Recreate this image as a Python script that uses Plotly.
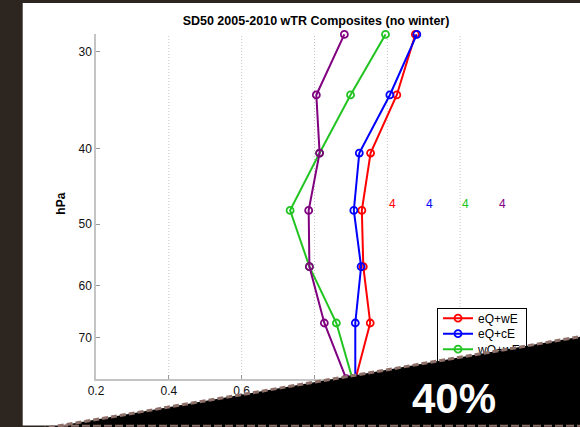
import math
import plotly.graph_objects as go

# ---------------- data ----------------
pressure_hpa = [28.5, 34.1, 40.5, 48.0, 56.7, 67.0, 79.0]
series_names = ["eQ+wE", "eQ+cE", "wQ+wE", "wQ+cE"]
eQ_wE = [1.077, 1.026, 0.954, 0.930, 0.934, 0.953, 0.913]
eQ_cE = [1.081, 1.007, 0.923, 0.908, 0.928, 0.912, 0.912]
wQ_wE = [0.995, 0.899, 0.814, 0.733, 0.786, 0.860, 0.904]
wQ_cE = [0.882, 0.805, 0.814, 0.784, 0.786, 0.827, 0.887]
series_values = [eQ_wE, eQ_cE, wQ_wE, wQ_cE]
series_colors = ["#ff0000", "#0000ff", "#22c422", "#800080"]

sample_counts = [4, 4, 4, 4]
count_x = [1.0, 1.1, 1.2, 1.3]
count_level = 48.0

x_ticks = [0.2, 0.4, 0.6, 0.8, 1.0, 1.2, 1.4]
x_tick_labels = ["0.2", "0.4", "0.6", "0.8", "1", "1.2", "1.4"]
y_ticks = [30, 40, 50, 60, 70]
y_tick_labels = ["30", "40", "50", "60", "70"]
grid_x = [0.4, 0.6, 0.8, 1.0, 1.2]
grid_y = [30, 50]

title_text = "SD50 2005-2010 wTR Composites (no winter)"
y_title = "hPa"
overlay_text = "40%"

# ---------------- layout geometry ----------------
W, H = 580, 427
ML, MR, MT, MB = 96, 47, 34, 48
PW, PH = W - ML - MR, H - MT - MB


def px(xp):
    return (xp - ML) / PW


def py(yp):
    return (H - MB - yp) / PH


FONT = "Liberation Sans, Arial, sans-serif"
DARK = "#2d2520"

fig = go.Figure()
for name, vals, col in zip(series_names, series_values, series_colors):
    fig.add_trace(go.Scatter(
        x=vals, y=pressure_hpa, name=name, mode="lines+markers",
        line=dict(color=col, width=2),
        marker=dict(symbol="circle-open", size=7, color=col, line=dict(width=1.8, color=col)),
        cliponaxis=False,
    ))

shapes = []
# grid lines
for gx in grid_x:
    shapes.append(dict(type="line", xref="x", yref="paper", x0=gx, x1=gx, y0=0, y1=1,
                       line=dict(color="#c4c4c4", width=1, dash="1px,2px"), layer="below"))
for gy in grid_y:
    shapes.append(dict(type="line", xref="paper", yref="y", x0=0, x1=1,
                       y0=math.log10(gy), y1=math.log10(gy),
                       line=dict(color="#c4c4c4", width=1, dash="1px,2px"), layer="below"))

# dark frame strips
shapes.append(dict(type="rect", xref="paper", yref="paper", x0=px(-5), x1=px(22.7), y0=py(-5), y1=py(H + 5),
                   fillcolor=DARK, line=dict(width=0), layer="above"))
shapes.append(dict(type="rect", xref="paper", yref="paper", x0=px(-5), x1=px(W + 5), y0=py(-5), y1=py(3),
                   fillcolor=DARK, line=dict(width=0), layer="above"))
shapes.append(dict(type="rect", xref="paper", yref="paper", x0=px(-5), x1=px(W + 5), y0=py(425.5), y1=py(H + 5),
                   fillcolor=DARK, line=dict(width=0), layer="above"))

# black wedge overlay
def wedge_y(xp):
    return 426 - 0.171 * (xp - 58)

wx0, wx1 = 40, W + 10
path = (f"M {px(wx0)},{py(wedge_y(wx0))} L {px(wx1)},{py(wedge_y(wx1))} "
        f"L {px(wx1)},{py(H + 5)} L {px(wx0)},{py(H + 5)} Z")
shapes.append(dict(type="path", xref="paper", yref="paper", path=path,
                   fillcolor="#000000", line=dict(width=0), layer="above"))
shapes.append(dict(type="line", xref="paper", yref="paper",
                   x0=px(wx0), y0=py(wedge_y(wx0)), x1=px(wx1), y1=py(wedge_y(wx1)),
                   line=dict(color="#8e706a", width=3, dash="6px,3px"), layer="above"))
shapes.append(dict(type="line", xref="paper", yref="paper",
                   x0=px(60), y0=py(425.8), x1=px(wx1), y1=py(425.8),
                   line=dict(color="#8e706a", width=2, dash="8px,3px"), layer="above"))

annotations = []
for n, cx, col in zip(sample_counts, count_x, series_colors):
    annotations.append(dict(x=cx, y=math.log10(count_level), xref="x", yref="y", text=str(n),
                            showarrow=False, xanchor="left", yanchor="bottom", yshift=-3,
                            font=dict(family=FONT, size=12, color=col)))
annotations.append(dict(x=px(60.7), y=py(204), xref="paper", yref="paper", text=f"<b>{y_title}</b>",
                        textangle=-90, showarrow=False, xanchor="center", yanchor="middle",
                        font=dict(family=FONT, size=12, color="#000")))
annotations.append(dict(x=px(454), y=py(398), xref="paper", yref="paper", text=f"<b>{overlay_text}</b>",
                        showarrow=False, xanchor="center", yanchor="middle",
                        font=dict(family=FONT, size=42, color="#ffffff")))

fig.update_layout(
    width=W, height=H,
    margin=dict(l=ML, r=MR, t=MT, b=MB, pad=0),
    paper_bgcolor="#ffffff", plot_bgcolor="#ffffff",
    font=dict(family=FONT, size=12, color="#111"),
    title=dict(text=f"<b>{title_text}</b>", x=px(316), xref="paper", xanchor="center",
               y=1 - 21 / H, yref="container", yanchor="middle",
               font=dict(family=FONT, size=12.5, color="#000")),
    xaxis=dict(range=[0.2, 1.4], tickvals=x_ticks, ticktext=x_tick_labels, showgrid=False,
               zeroline=False, showline=True, linecolor="#c4c4c4", linewidth=1.5,
               ticks="inside", ticklen=4, tickcolor="#999", mirror=False,
               tickfont=dict(family=FONT, size=12, color="#111")),
    yaxis=dict(type="log",
               range=[math.log10(pressure_hpa[-1]) + 0.0005, math.log10(pressure_hpa[0]) - 0.0005],
               tickvals=y_ticks, ticktext=y_tick_labels, showgrid=False, zeroline=False,
               showline=True, linecolor="#c4c4c4", linewidth=1.5,
               ticks="inside", ticklen=4, tickcolor="#999",
               tickfont=dict(family=FONT, size=12, color="#111")),
    legend=dict(x=px(437), y=py(307.7), xanchor="left", yanchor="top",
                bgcolor="#ffffff", bordercolor="#000000", borderwidth=1,
                font=dict(family=FONT, size=12, color="#000"), tracegroupgap=0),
    shapes=shapes, annotations=annotations, showlegend=True,
)

# Page setup: no body margin; legend beneath the overlay wedge with tighter rows (as in the reference)
post_js = """
document.body.style.margin='0';
document.body.style.background='#2d2520';
(function(){
  function fix(){
    var gd = document.querySelector('.plotly-graph-div');
    if(!gd) return;
    var lg = gd.querySelector('.infolayer > .legend');
    var above = gd.querySelector('.main-svg > .layer-above');
    if(lg && above && above.parentNode){ above.parentNode.insertBefore(lg, above); }
    if(lg && !lg.__tight){
      var items = lg.querySelectorAll('g.traces');
      var y0 = null;
      for(var i=0;i<items.length;i++){
        var t = items[i].getAttribute('transform') || '';
        var m = t.match(/translate\\(\\s*([-\\d.eE]+)[ ,]+([-\\d.eE]+)\\s*\\)/);
        if(!m) continue;
        var x = parseFloat(m[1]), y = parseFloat(m[2]);
        if(y0 === null) y0 = y;
        items[i].setAttribute('transform', 'translate(' + x + ',' + (y0 - 5 + i*15.5) + ')');
      }
      lg.__tight = true;
    }
  }
  fix();
  setTimeout(fix, 100);
  setTimeout(fix, 500);
})();
"""

fig.write_html("out.html", post_script=post_js, config={"displayModeBar": False})
